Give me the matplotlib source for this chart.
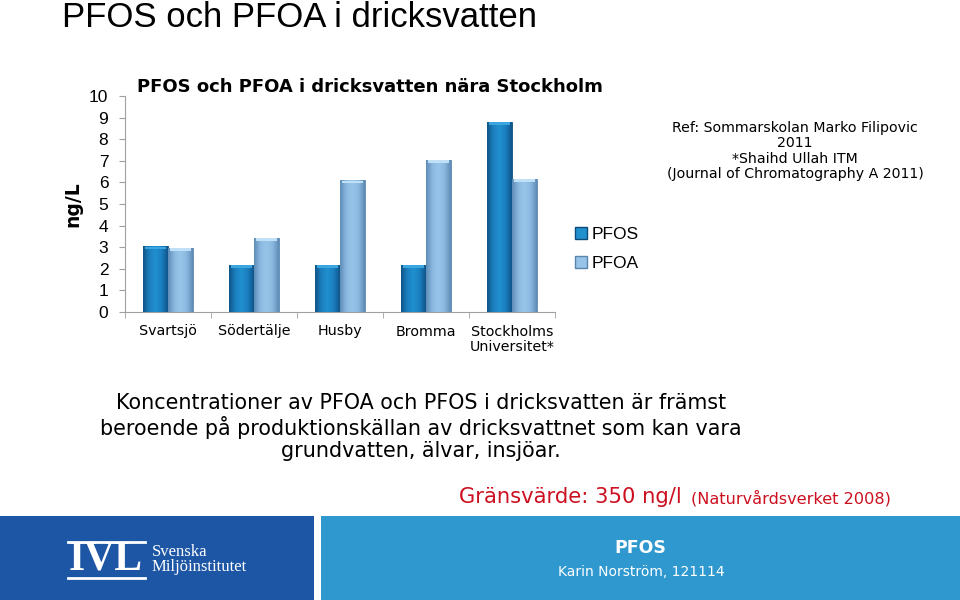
import numpy as np
import matplotlib
matplotlib.use("Agg")
import matplotlib.pyplot as plt
from matplotlib.patches import Rectangle
from matplotlib.lines import Line2D
from matplotlib.colors import LinearSegmentedColormap

# data (ng/L)
sites = ["Svartsjö", "Södertälje", "Husby", "Bromma", "Stockholms\nUniversitet*"]
pfos = [3.05, 2.18, 2.18, 2.18, 8.8]
pfoa = [2.96, 3.43, 6.1, 7.04, 6.16]
series_names = ["PFOS", "PFOA"]

W, H = 960, 600
fig = plt.figure(figsize=(W / 100, H / 100), dpi=100)


def fx(px):
    return px / W


def fy(py):
    return 1 - py / H


# slide title
fig.text(fx(62), fy(27), "PFOS och PFOA i dricksvatten", family="Liberation Sans",
         fontsize=25, color="black", va="baseline", ha="left")

# chart area
ax = fig.add_axes([fx(125), fy(312), fx(555) - fx(125), fy(96) - fy(312)])
x = np.arange(len(sites))
bw = 0.29

cmap_pfos = LinearSegmentedColormap.from_list("pfos", ["#0f5586", "#1b7fbf", "#2190cf", "#1b7fbf", "#10558a"])
cmap_pfoa = LinearSegmentedColormap.from_list("pfoa", ["#5e8db8", "#8ab8df", "#98c4e9", "#8ab8df", "#5f8cb6"])
grad = np.linspace(0, 1, 64).reshape(1, -1)


def draw_bars(xs, vals, cmap, cap_color, edge):
    bars = ax.bar(xs, vals, width=bw, color=cmap(0.5), edgecolor=edge, linewidth=0.6, zorder=2)
    for b in bars:
        x0, w, h = b.get_x(), b.get_width(), b.get_height()
        im = ax.imshow(grad, cmap=cmap, extent=[x0, x0 + w, 0, h], aspect="auto", zorder=3)
        im.set_clip_path(b)
        # lighter bevel on top of each bar
        ax.add_patch(Rectangle((x0 + 0.02, h - 0.12), w - 0.04, 0.1, color=cap_color, zorder=4, lw=0))
    return bars


draw_bars(x - bw / 2, pfos, cmap_pfos, "#3aa6e0", "#0d4a78")
draw_bars(x + bw / 2, pfoa, cmap_pfoa, "#bfe0f7", "#5a86ad")

ax.set_xlim(-0.5, len(sites) - 0.5)
ax.set_ylim(0, 10)
ax.set_yticks(range(0, 11))
ax.set_yticklabels([str(v) for v in range(0, 11)], family="Liberation Sans", fontsize=12.5)
ax.set_xticks(x)
ax.set_xticklabels(sites, family="DejaVu Sans", fontsize=10.3, linespacing=1.15)
ax.set_xticks(np.arange(-0.5, len(sites)), minor=True)
ax.tick_params(axis="x", which="major", length=0, pad=9)
ax.tick_params(axis="x", which="minor", length=4, color="#a0a0a0")
ax.tick_params(axis="y", length=4, color="#a0a0a0", pad=8)
for s in ["top", "right"]:
    ax.spines[s].set_visible(False)
for s in ["left", "bottom"]:
    ax.spines[s].set_color("#a0a0a0")
ax.set_ylabel("ng/L", fontsize=13.5, fontweight="bold", labelpad=5)
ax.patch.set_alpha(0)

fig.text(fx(137), fy(87), "PFOS och PFOA i dricksvatten nära Stockholm", fontsize=13,
         fontweight="bold", va="center", ha="left")

handles = [Rectangle((0, 0), 1, 1, facecolor=cmap_pfos(0.5), edgecolor="#0d4a78"),
           Rectangle((0, 0), 1, 1, facecolor=cmap_pfoa(0.5), edgecolor="#5a86ad")]
ax.legend(handles, series_names, loc="center left", bbox_to_anchor=(fx(559), fy(249)),
          bbox_transform=fig.transFigure, frameon=False, handlelength=0.7, handleheight=0.7,
          handletextpad=0.3, labelspacing=0.75, prop={"family": "Liberation Sans", "size": 12.5})

# reference note
fig.text(fx(795), fy(151), "Ref: Sommarskolan Marko Filipovic\n2011\n*Shaihd Ullah ITM\n(Journal of Chromatography A 2011)",
         fontsize=10.2, ha="center", va="center", linespacing=1.1)

# body text
fig.text(fx(421), fy(427), "Koncentrationer av PFOA och PFOS i dricksvatten är främst\n"
         "beroende på produktionskällan av dricksvattnet som kan vara\n"
         "grundvatten, älvar, insjöar.", fontsize=14.9, ha="center", va="center", linespacing=1.15)

fig.text(fx(459), fy(497), "Gränsvärde: 350 ng/l", fontsize=15.2, color="#cc1020", ha="left", va="center")
fig.text(fx(691), fy(498), "(Naturvårdsverket 2008)", fontsize=11.6, color="#cc1020", ha="left", va="center")

# footer banner
fig.add_artist(Rectangle((0, 0), fx(314), fy(516), transform=fig.transFigure, color="#1d56a5", lw=0))
fig.add_artist(Rectangle((fx(321), 0), 1 - fx(321), fy(516), transform=fig.transFigure, color="#2e98cf", lw=0))

fig.text(fx(106), fy(560), "IVL", family="Liberation Serif", fontweight="bold", fontsize=30,
         color="white", ha="center", va="center")
for ly in [542, 578]:
    fig.add_artist(Line2D([fx(68), fx(145)], [fy(ly), fy(ly)], transform=fig.transFigure, color="white", lw=2))
fig.text(fx(152), fy(552), "Svenska", family="Liberation Serif", fontsize=12, color="white", ha="left", va="center")
fig.text(fx(152), fy(567), "Miljöinstitutet", family="Liberation Serif", fontsize=12, color="white", ha="left", va="center")

fig.text(fx(640), fy(548), "PFOS", fontsize=12.5, fontweight="bold", color="white", ha="center", va="center")
fig.text(fx(558), fy(572), "Karin Norström, 121114", fontsize=10, color="white", ha="left", va="center")

fig.savefig("out.png", dpi=100)
